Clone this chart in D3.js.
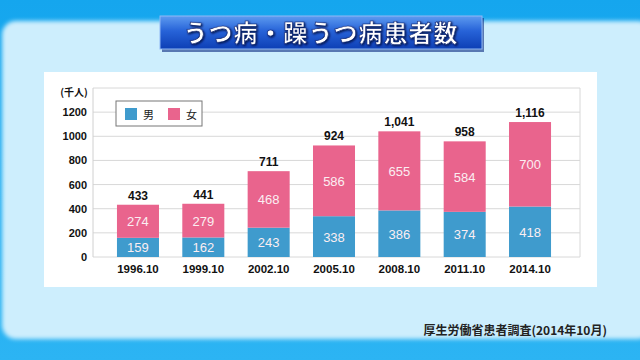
<!DOCTYPE html>
<html><head><meta charset="utf-8">
<script src="https://cdn.jsdelivr.net/npm/d3@7"></script>
<style>html,body{margin:0;padding:0;background:#1aa9ef;}svg{display:block;}</style>
</head><body>
<svg id="c" width="640" height="360"></svg>
<script>
const categories = ["1996.10","1999.10","2002.10","2005.10","2008.10","2011.10","2014.10"];
const male = [159,162,243,338,386,374,418];
const female = [274,279,468,586,655,584,700];
const totals = ["433","441","711","924","1,041","958","1,116"];
const yTicks = [0,200,400,600,800,1000,1200];
const seriesNames = ["男","女"];
const title = "うつ病・躁うつ病患者数";
const source = "厚生労働省患者調査(2014年10月)";
const unit = "(千人)";

const svg = d3.select("#c");
const defs = svg.append("defs");
const bg = defs.append("linearGradient").attr("id","bg").attr("x1",0).attr("y1",0).attr("x2",0).attr("y2",1);
bg.append("stop").attr("offset","0").attr("stop-color","#15a6ee");
bg.append("stop").attr("offset","1").attr("stop-color","#2cb4f3");
const tb = defs.append("linearGradient").attr("id","tb").attr("x1",0).attr("y1",0).attr("x2",0).attr("y2",1);
tb.append("stop").attr("offset","0").attr("stop-color","#5d9bf0");
tb.append("stop").attr("offset","0.45").attr("stop-color","#2763d8");
tb.append("stop").attr("offset","1").attr("stop-color","#0d3fb5");
const pf = defs.append("filter").attr("id","blur").attr("x","-5%").attr("y","-5%").attr("width","110%").attr("height","110%");
pf.append("feGaussianBlur").attr("stdDeviation",2);
const ts = defs.append("filter").attr("id","ts").attr("x","-10%").attr("y","-20%").attr("width","120%").attr("height","140%");
ts.append("feDropShadow").attr("dx",1).attr("dy",1).attr("stdDeviation",0.8).attr("flood-color","#001040").attr("flood-opacity",0.95);

svg.append("rect").attr("width",640).attr("height",360).attr("fill","url(#bg)");
svg.append("rect").attr("x",2).attr("y",21).attr("width",650).attr("height",318).attr("rx",14)
  .attr("fill","#cdeefd").attr("filter","url(#blur)");

// title banner
svg.append("rect").attr("x",162).attr("y",18).attr("width",322).attr("height",34).attr("fill","#0a2a80").attr("opacity",0.6);
svg.append("rect").attr("x",160).attr("y",16).attr("width",322).attr("height",33).attr("fill","url(#tb)")
  .attr("stroke","#8fb8f5").attr("stroke-width",1);
svg.append("text").attr("x",321).attr("y",42).attr("text-anchor","middle")
  .attr("font-family","'Noto Sans CJK JP'").attr("font-weight","bold").attr("font-size",24)
  .attr("fill","#ffffff").attr("stroke","#0a2070").attr("stroke-width",0.6).attr("filter","url(#ts)")
  .attr("letter-spacing",1).text(title);

// white chart box
svg.append("rect").attr("x",44).attr("y",72).attr("width",553).attr("height",215).attr("fill","#ffffff");

const x = d3.scaleBand().domain(categories).range([105.3,562.7]).paddingInner(0.357).paddingOuter(0.1785);
const y = d3.scaleLinear().domain([0,1400]).range([257,88]);

const g = svg.append("g");
g.selectAll("line.grid").data(yTicks.concat([1400])).enter().append("line")
  .attr("x1",93).attr("x2",580).attr("y1",d=>y(d)).attr("y2",d=>y(d))
  .attr("stroke","#d8d8d8").attr("stroke-width",1);
g.append("line").attr("x1",93).attr("x2",93).attr("y1",y(1400)).attr("y2",y(0)).attr("stroke","#d0d0d0");
g.append("line").attr("x1",580).attr("x2",580).attr("y1",y(1400)).attr("y2",y(0)).attr("stroke","#d8d8d8");

const yAxis = d3.axisLeft(y).tickValues(yTicks).tickFormat(d3.format("d")).tickSize(0).tickPadding(6);
const ya = svg.append("g").attr("transform","translate(93,0)").call(yAxis);
ya.select(".domain").remove();
ya.selectAll("text").attr("font-family","'Liberation Sans',Arial,sans-serif").attr("font-weight","bold")
  .attr("font-size",11).attr("fill","#111");
svg.append("text").attr("x",74).attr("y",96).attr("text-anchor","middle")
  .attr("font-family","'Noto Sans CJK JP'").attr("font-weight","bold").attr("font-size",10).attr("fill","#111").text(unit);

const colors = ["#3f9bcd","#e9648d"];
const stack = d3.stack().keys([0,1]).value((d,k)=>k===0?d.m:d.f);
const rows = categories.map((c,i)=>({c,m:male[i],f:female[i]}));
const layers = stack(rows);
layers.forEach((layer,k)=>{
  svg.append("g").selectAll("rect").data(layer).enter().append("rect")
    .attr("x",d=>x(d.data.c)).attr("width",x.bandwidth())
    .attr("y",d=>y(d[1])).attr("height",d=>y(d[0])-y(d[1]))
    .attr("fill",colors[k]);
  svg.append("g").selectAll("text").data(layer).enter().append("text")
    .attr("x",d=>x(d.data.c)+x.bandwidth()/2).attr("y",d=>(y(d[0])+y(d[1]))/2+5)
    .attr("text-anchor","middle").attr("font-family","'Liberation Sans',Arial,sans-serif")
    .attr("font-size",13).attr("fill","#fbeef2").text(d=>k===0?d.data.m:d.data.f);
});
svg.append("g").selectAll("text").data(rows).enter().append("text")
  .attr("x",d=>x(d.c)+x.bandwidth()/2).attr("y",d=>y(d.m+d.f)-5)
  .attr("text-anchor","middle").attr("font-family","'Liberation Sans',Arial,sans-serif")
  .attr("font-weight","bold").attr("font-size",12).attr("fill","#111").text((d,i)=>totals[i]);

const xa = svg.append("g").attr("transform","translate(0,257)").call(d3.axisBottom(x).tickSize(0).tickPadding(8));
xa.select(".domain").remove();
xa.selectAll("text").attr("font-family","'Liberation Sans',Arial,sans-serif").attr("font-weight","bold")
  .attr("font-size",11.5).attr("fill","#111");

const lg = svg.append("g");
lg.append("rect").attr("x",116).attr("y",101).attr("width",86).attr("height",25).attr("fill","#fff").attr("stroke","#777").attr("stroke-width",1);
seriesNames.forEach((n,i)=>{
  lg.append("rect").attr("x",125+i*43).attr("y",108).attr("width",12).attr("height",12).attr("fill",colors[i]);
  lg.append("text").attr("x",143+i*43).attr("y",118.5).attr("font-family","'Noto Sans CJK JP'")
    .attr("font-size",11).attr("fill","#222").text(n);
});

svg.append("text").attr("x",607).attr("y",335).attr("text-anchor","end")
  .attr("font-family","'Noto Sans CJK JP'").attr("font-weight","bold").attr("font-size",12).attr("fill","#222").text(source);
</script>
</body></html>
